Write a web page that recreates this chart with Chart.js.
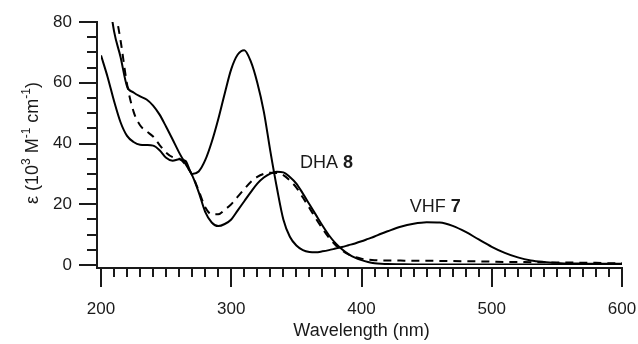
<!DOCTYPE html>
<html>
<head>
<meta charset="utf-8">
<script src="https://cdn.jsdelivr.net/npm/chart.js@4.4.1/dist/chart.umd.min.js"></script>
<style>
  html, body { margin: 0; padding: 0; background: #fff; }
  #wrap { width: 638px; height: 344px; }
</style>
</head>
<body>
<div id="wrap"><canvas id="spectra" width="638" height="344"></canvas></div>
<script>
// wavelength grid (nm): 5 nm steps to 420, then 10 nm steps
const wavelength = [
  200, 205, 210, 215, 220, 225, 230, 235, 240, 245,
  250, 255, 260, 265, 270, 275, 280, 285, 290, 295,
  300, 305, 310, 315, 320, 325, 330, 335, 340, 345,
  350, 355, 360, 365, 370, 375, 380, 385, 390, 395,
  400, 405, 410, 415, 420, 430, 440, 450, 460, 470,
  480, 490, 500, 510, 520, 530, 540, 550, 560, 570,
  580, 590, 600,
];

// epsilon, 10^3 M-1 cm-1
const vhf7 = [
  69, 62, 54, 47, 42.5, 40.5, 39.6, 39.5, 39.3, 37.8,
  35.3, 34.3, 34.8, 34.2, 30.0, 30.8, 34.5, 40.5, 48, 56.5,
  64.5, 69.3, 70.7, 67, 60, 50.5, 37.5, 25.5, 15, 9.3,
  6.4, 4.9, 4.3, 4.2, 4.5, 4.9, 5.4, 5.9, 6.5, 7.1,
  7.8, 8.6, 9.4, 10.3, 11.1, 12.6, 13.6, 14.1, 14.0, 12.9,
  10.9, 8.4, 6.0, 4.0, 2.5, 1.5, 1.0, 0.7, 0.5, 0.45,
  0.4, 0.4, 0.4,
];

const dha8 = [
  110, 92, 77, 68.5, 58.8, 56.8, 55.5, 54.5, 52.5, 49.5,
  45.5, 41.3, 37, 33.2, 29.5, 24, 17.5, 14, 12.8, 13.5,
  15, 18, 21, 24, 26.8, 28.8, 30.1, 30.7, 30.5, 29,
  26.8, 23.5, 20, 16.5, 13, 9.8, 7.2, 5.2, 3.6, 2.4,
  1.6, 1.0, 0.6, 0.4, 0.3, 0.25, 0.2, 0.2, 0.2, 0.2,
  0.2, 0.2, 0.2, 0.2, 0.2, 0.2, 0.2, 0.2, 0.2, 0.2,
  0.2, 0.2, 0.2,
];

// dashed trace
const dha8Dashed = [
  115, 98, 86, 74, 59.5, 50.5, 46, 44, 42.3, 39.5,
  37, 35.5, 35, 33, 29.6, 24.5, 19, 16.7, 16.7, 18.2,
  20, 22.5, 25, 27.3, 29, 30, 30.4, 30.3, 29.6, 27.8,
  25.5, 22.2, 18.8, 15.3, 12, 9, 6.6, 4.8, 3.5, 2.6,
  2.1, 1.8, 1.6, 1.5, 1.5, 1.45, 1.4, 1.4, 1.35, 1.3,
  1.25, 1.2, 1.1, 1.0, 1.0, 0.9, 0.9, 0.8, 0.8, 0.7,
  0.7, 0.6, 0.6,
];

const xTicks = [200, 300, 400, 500, 600];
const yTicks = [0, 20, 40, 60, 80];

// labels placed in data units: [wavelength, epsilon, name, number]
const curveLabels = [
  [352.7, 31.9, "DHA ", "8"],
  [437, 17.4, "VHF ", "7"],
];

const FONT = '"Liberation Sans", Arial, Helvetica, sans-serif';
const INK = "#1a1a1a";

const toPoints = (ys) => wavelength.map((x, i) => ({ x, y: ys[i] }));

// Igor-style offset axes with minor ticks, labels drawn here too
const axesPlugin = {
  id: "offsetAxes",
  afterDraw(chart) {
    const { ctx, chartArea, scales } = chart;
    const xs = scales.x;
    const ys = scales.y;
    const axisX = chartArea.left - 4;
    const axisY = chartArea.bottom + 3;
    ctx.save();
    ctx.strokeStyle = INK;
    ctx.lineWidth = 2;
    ctx.lineCap = "butt";
    ctx.beginPath();
    ctx.moveTo(axisX, ys.getPixelForValue(80) - 1);
    ctx.lineTo(axisX, axisY + 1);
    ctx.moveTo(axisX - 1, axisY);
    ctx.lineTo(xs.getPixelForValue(600) + 1, axisY);
    for (let v = 200; v <= 600; v += 10) {
      const px = Math.round(xs.getPixelForValue(v));
      ctx.moveTo(px, axisY);
      ctx.lineTo(px, axisY + (v % 100 === 0 ? 19 : 9));
    }
    for (let v = 0; v <= 80; v += 5) {
      const py = Math.round(ys.getPixelForValue(v));
      ctx.moveTo(axisX, py);
      ctx.lineTo(axisX - (v % 20 === 0 ? 18 : 10), py);
    }
    ctx.stroke();

    // tick labels
    ctx.fillStyle = INK;
    ctx.font = "17px " + FONT;
    ctx.textBaseline = "middle";
    ctx.textAlign = "center";
    xTicks.forEach((v) => ctx.fillText(String(v), xs.getPixelForValue(v), 309));
    ctx.textAlign = "right";
    yTicks.forEach((v) => ctx.fillText(String(v), 72, ys.getPixelForValue(v)));

    // y title with superscripts, reading bottom to top
    const parts = [
      ["\u03b5 (10", false], ["3", true], [" M", false], ["-1", true],
      [" cm", false], ["-1", true], [")", false],
    ];
    const big = "18px " + FONT;
    const small = "12px " + FONT;
    let total = 0;
    parts.forEach(([t, sup]) => {
      ctx.font = sup ? small : big;
      total += ctx.measureText(t).width;
    });
    ctx.save();
    ctx.translate(38, 143);
    ctx.rotate(-Math.PI / 2);
    ctx.textBaseline = "alphabetic";
    ctx.textAlign = "left";
    let cx = -total / 2;
    parts.forEach(([t, sup]) => {
      ctx.font = sup ? small : big;
      ctx.fillText(t, cx, sup ? -8 : 0);
      cx += ctx.measureText(t).width;
    });
    ctx.restore();

    // curve labels
    ctx.textBaseline = "alphabetic";
    ctx.textAlign = "left";
    curveLabels.forEach(([lx, ly, name, num]) => {
      let px = xs.getPixelForValue(lx);
      const py = ys.getPixelForValue(ly);
      ctx.font = "18px " + FONT;
      ctx.fillText(name, px, py);
      px += ctx.measureText(name).width;
      ctx.font = "bold 18px " + FONT;
      ctx.fillText(num, px, py);
    });

    // x title
    ctx.font = "18px " + FONT;
    ctx.textAlign = "center";
    ctx.fillText("Wavelength (nm)", (chartArea.left + chartArea.right) / 2, 336);
    ctx.restore();
  },
};

const lineStyle = {
  borderColor: "#000",
  borderWidth: 2,
  pointRadius: 0,
  fill: false,
  cubicInterpolationMode: "monotone",
};

new Chart(document.getElementById("spectra"), {
  type: "line",
  data: {
    datasets: [
      { label: "VHF 7", data: toPoints(vhf7), ...lineStyle },
      { label: "DHA 8", data: toPoints(dha8), ...lineStyle },
      { label: "DHA 8 (dashed)", data: toPoints(dha8Dashed), ...lineStyle, borderDash: [8, 6] },
    ],
  },
  options: {
    responsive: false,
    animation: false,
    layout: { padding: { top: 22, right: 16, left: 0, bottom: 0 } },
    plugins: { legend: { display: false }, tooltip: { enabled: false } },
    scales: {
      x: {
        type: "linear",
        min: 200,
        max: 600,
        afterFit: (s) => { s.height = 79; },
        grid: { display: false, drawTicks: false },
        border: { display: false },
        ticks: { display: false },
      },
      y: {
        min: 0,
        max: 80,
        afterFit: (s) => { s.width = 101; },
        grid: { display: false, drawTicks: false },
        border: { display: false },
        ticks: { display: false },
      },
    },
  },
  plugins: [axesPlugin],
});
</script>
</body>
</html>
